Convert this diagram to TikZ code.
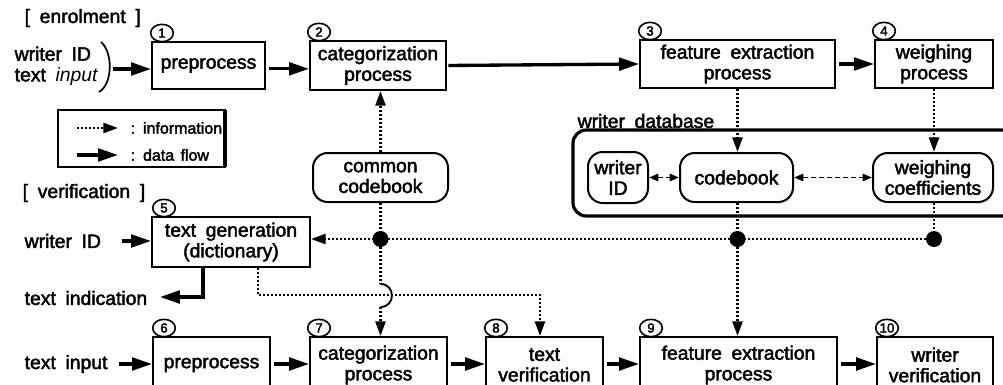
\documentclass[tikz,border=0pt]{standalone}
\usepackage{fontspec}
\setmainfont{Liberation Sans}[BoldFont=Liberation Sans, BoldFeatures={FakeBold=2.2}]
\usetikzlibrary{arrows.meta,shapes.geometric,calc}

\newcommand\diagfont{\fontsize{14.5}{15.5}\selectfont\bfseries\spaceskip=0.5em\relax}
\newcommand\legfont{\fontsize{12}{13}\selectfont\bfseries\spaceskip=0.4em\relax}
\newcommand\circfont{\fontsize{10}{10}\selectfont\bfseries}

\tikzset{
  every node/.style={font=\diagfont},
  proc/.style={draw, line width=1.5pt, align=center, inner sep=0pt},
  store/.style={draw, line width=1.5pt, rounded corners=11pt, align=center, inner sep=0pt},
  num/.style={draw, ellipse, line width=1.2pt, inner sep=0pt, minimum width=17pt,
              minimum height=13pt, font=\circfont, fill=white},
  flow/.style={line width=2.5pt, -{Triangle[length=15pt,width=9.5pt]}},
  info/.style={line width=1.9pt, dash pattern=on 1.6pt off 1.4pt,
               -{Triangle[length=11pt,width=7.5pt]}},
  infoline/.style={line width=1.9pt, dash pattern=on 1.6pt off 1.4pt},
  link/.style={line width=1.4pt, dash pattern=on 3.5pt off 2.5pt,
               {Triangle[length=7pt,width=5.5pt]}-{Triangle[length=7pt,width=5.5pt]}},
  junction/.style={circle, fill, inner sep=0pt, minimum size=12pt},
}

\begin{document}
\begin{tikzpicture}[x=0.75pt, y=-0.75pt]
\useasboundingbox (0,0) rectangle (1003,385);
\clip (0,0) rectangle (1003,385);

% ---------- enrolment ----------
\node[anchor=west] (enr) at (20,18) {[ enrolment ]};
\node[anchor=west, align=left] (win) at (10,66) {writer ID\\text \textit{input}};
\coordinate (brkT) at (101,42);
\coordinate (brkB) at (99,92);
\draw[line width=1.3pt] (brkT) .. controls (113,52) and (113,84) .. (brkB);
\coordinate (brk) at (113,69);

\node[proc, minimum width=84.75pt, minimum height=35.25pt] (b1) at (208.5,65.5) {preprocess};
\node[proc, minimum width=102pt, minimum height=36.75pt] (b2) at (378,65.5) {categorization\\process};
\node[proc, minimum width=146.25pt, minimum height=36pt] (b3) at (737.5,64) {feature extraction\\process};
\node[proc, minimum width=88.5pt, minimum height=36pt] (b4) at (934,64) {weighing\\process};

\node[num] (n1) at ($(b1.north west)+(11,-8)$) {1};
\node[num] (n2) at ($(b2.north west)+(10,-8)$) {2};
\node[num] (n3) at ($(b3.north west)+(11,-8)$) {3};
\node[num] (n4) at ($(b4.north west)+(10,-8)$) {4};

\draw[flow] (brk) -- (b1.west |- brk);
\draw[flow, shorten <=2pt] ([yshift=-2.5pt]b1.east) -- ([yshift=-2.5pt]b2.west);
\draw[flow, shorten <=1pt] (b2.east) -- (b3.west);
\draw[flow, shorten <=2pt] (b3.east) -- (b4.west);

% ---------- legend ----------
\draw[line width=1.3pt] (58,110) rectangle (225,167);
\draw[line width=3pt] (225,110) -- (225,167);
\coordinate (li0) at (77,128);  \coordinate (li1) at (118,128);
\coordinate (lf0) at (77,155);  \coordinate (lf1) at (118,155);
\draw[info] (li0) -- (li1);
\draw[flow] (lf0) -- (lf1);
\node[anchor=west, font=\legfont] (lgi) at (126,128) {: information};
\node[anchor=west, font=\legfont] (lgf) at (126,155) {: data flow};

% ---------- common codebook ----------
\node[store, minimum width=101.25pt, minimum height=36.75pt] (cc) at (380.5,177.5) {common\\codebook};
\draw[info] (cc.north) -- (cc.north |- b2.south);

% ---------- writer database ----------
\node[anchor=west] (dbl) at (573,121) {writer database};
\draw[line width=2.4pt, rounded corners=10pt] (573,130) rectangle (1015,216);
\node[store, minimum width=45pt, minimum height=38.25pt] (wid) at (618,177.5) {writer\\ID};
\node[store, minimum width=84.75pt, minimum height=36.75pt] (cb) at (736.5,177.5) {codebook};
\node[store, minimum width=90pt, minimum height=36.75pt] (wc) at (933,177.5) {weighing\\coefficients};
\draw[info] (b3.south) -- (b3.south |- cb.north);
\draw[info] (b4.south) -- (b4.south |- wc.north);
\draw[link] (wid.east) -- (cb.west);
\draw[link] (cb.east) -- (wc.west);

% ---------- verification ----------
\node[anchor=west] (ver) at (18,193) {[ verification ]};
\node[proc, minimum width=118.5pt, minimum height=37.5pt] (b5) at (231,242) {text generation\\(dictionary)};
\node[num] (n5) at ($(b5.north west)+(13,-8)$) {5};
\node[anchor=west] (wid2) at (20,241) {writer ID};
\draw[flow, shorten <=12pt] (wid2.east) -- (b5.west |- wid2.east);

\coordinate (d1pos) at (380.5,239);
\coordinate (d2pos) at (737.5,239);
\coordinate (d3pos) at (934,239);
\draw[infoline] (cc.south) -- (cc.south |- d1pos);
\draw[infoline] (b3.south |- cb.south) -- (d2pos);
\draw[infoline] (b4.south |- wc.south) -- (d3pos);
\draw[info] (d3pos) -- (d2pos) -- (d1pos) -- (d1pos -| b5.east);

\node[anchor=west] (ti) at (20,298) {text indication};
\coordinate (tiout) at ([xshift=-21pt]b5.south);
\coordinate (tiy) at (0,297);
\draw[flow] (tiout) |- ([xshift=6pt]ti.east |- tiy);

% bottom row of processes
\node[proc, minimum width=87.75pt, minimum height=42pt] (b6) at (211.5,365) {preprocess};
\node[proc, minimum width=102.75pt, minimum height=42pt] (b7) at (378.5,365) {categorization\\process};
\node[proc, minimum width=87.75pt, minimum height=42pt] (b8) at (544.5,365) {text\\verification};
\node[proc, minimum width=147.75pt, minimum height=42pt] (b9) at (738.5,365) {feature extraction\\process};
\node[proc, minimum width=87pt, minimum height=42pt] (b10) at (935,365) {writer\\verification};
\node[num] (n6) at ($(b6.north west)+(12,-8)$) {6};
\node[num] (n7) at ($(b7.north west)+(10,-8)$) {7};
\node[num] (n8) at ($(b8.north west)+(11,-8)$) {8};
\node[num] (n9) at ($(b9.north west)+(12,-8)$) {9};
\node[num] (n10) at ($(b10.north west)+(11,-8)$) {10};

\node[anchor=west] (tin) at (20,364) {text input};
\coordinate (rowy) at (0,364);
\draw[flow, shorten <=5pt] (tin.east) -- (b6.west |- tin.east);
\draw[flow, shorten <=2pt] (b6.east |- rowy) -- (b7.west |- rowy);
\draw[flow, shorten <=2pt] (b7.east |- rowy) -- (b8.west |- rowy);
\draw[flow, shorten <=2pt] (b8.east |- rowy) -- (b9.west |- rowy);
\draw[flow, shorten <=2pt] (b9.east |- rowy) -- (b10.west |- rowy);

% dictionary output to text verification, hopping the codebook line
\coordinate (dictout) at ([xshift=20.25pt]b5.south);
\coordinate (runy) at (0,295);
\coordinate (b8in) at ([xshift=-3.4pt]b8.north);
\draw[info] (dictout) -- (dictout |- runy) -- (b8in |- runy) -- (b8in);

\coordinate (hopT) at (380.5,284);
\coordinate (hopB) at (380.5,307);
\draw[infoline] (d1pos) -- (hopT);
\draw[line width=1.4pt] (hopT) to[out=0, in=0, looseness=1.7] (hopB);
\draw[info] (hopB) -- (hopB |- b7.north);
\draw[info] (d2pos) -- (d2pos |- b9.north);

\node[junction] (d1) at (d1pos) {};
\node[junction] (d2) at (d2pos) {};
\node[junction] (d3) at (d3pos) {};
\end{tikzpicture}
\end{document}
